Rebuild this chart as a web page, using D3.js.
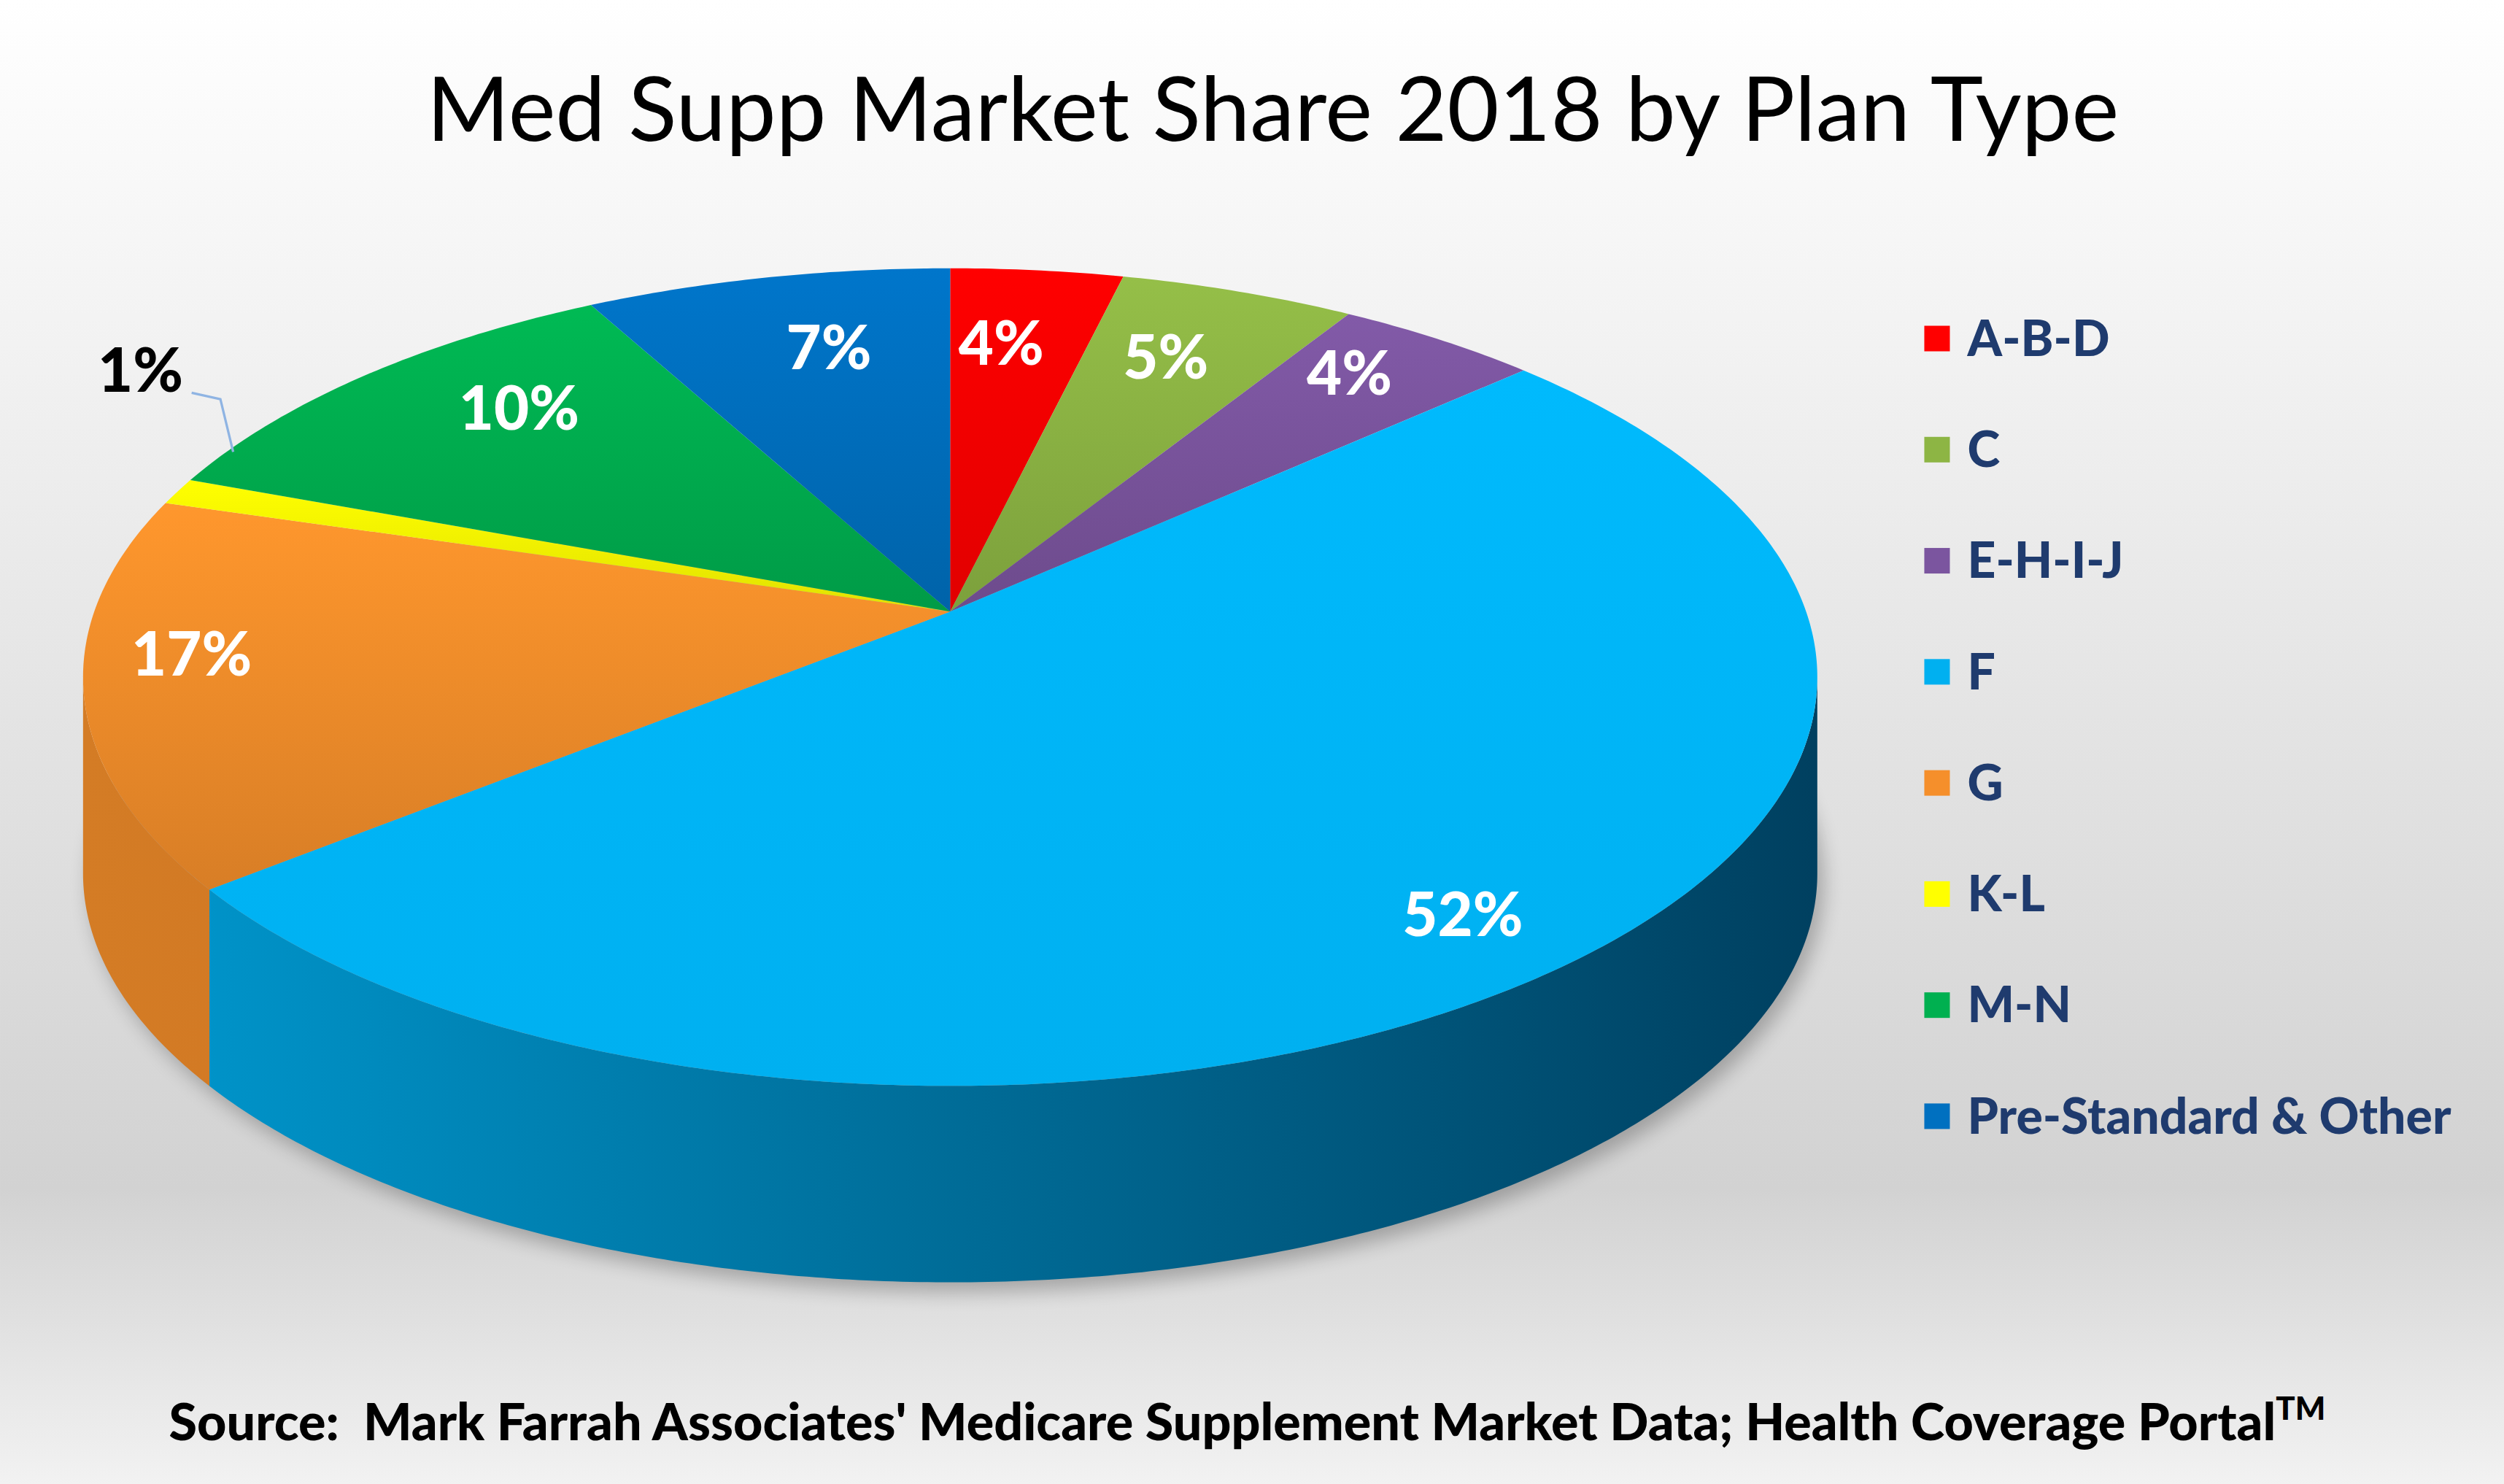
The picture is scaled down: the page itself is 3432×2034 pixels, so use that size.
<!DOCTYPE html>
<html><head><meta charset="utf-8">
<script src="https://cdn.jsdelivr.net/npm/d3@7"></script>
<style>body{margin:0;overflow:hidden}</style></head>
<body><svg id="c" width="3432" height="2034"></svg>
<script>
const categories=["A-B-D","C","E-H-I-J","F","G","K-L","M-N","Pre-Standard & Other"];
const values=[3.2,4.4,3.9,54.8,15.7,1.0,10.2,6.8];
const labels=["4%","5%","4%","52%","17%","1%","10%","7%"];
const colors=["#ff0000","#8db544","#7b559f","#00b0f0","#f58f2b","#ffff00","#00b050","#0070c0"];
const darks=["#b00000","#6a8c30","#5a3a80","#004060","#c0601a","#c0c000","#007a3a","#004f8a"];
const labelPos=[[627,215],[730,224],[845,234],[916,573],[120,410],[88,232],[325,256],[519,218]];

const svg=d3.select("#c").attr("viewBox","0 0 1568 929.3");
const defs=svg.append("defs");
const bg=defs.append("linearGradient").attr("id","bg").attr("x1",0).attr("y1",0).attr("x2",0).attr("y2",1);
bg.append("stop").attr("offset","0").attr("stop-color","#ffffff");
bg.append("stop").attr("offset","0.8").attr("stop-color","#d2d2d2");
bg.append("stop").attr("offset","1").attr("stop-color","#f2f2f2");
svg.append("rect").attr("width",1568).attr("height",930).attr("fill","url(#bg)");

const cx=595,cy=424,rx=543,ry=256,ax=595,ay=383,depth=123;
const pt=a=>[cx+rx*Math.sin(a),cy-ry*Math.cos(a)];
const total=d3.sum(values);
const ang=d3.scaleLinear().domain([0,total]).range([0,2*Math.PI]);
let cum=0;
const slices=values.map((v,i)=>{const s={i,a0:ang(cum),a1:ang(cum+v)};cum+=v;return s;});

defs.append("filter").attr("id","sh").append("feGaussianBlur").attr("stdDeviation",6);
svg.append("ellipse").attr("cx",cx+4).attr("cy",cy+depth+6).attr("rx",rx).attr("ry",ry).attr("fill","#000").attr("opacity",0.25).attr("filter","url(#sh)");

slices.forEach(s=>{
  const g=defs.append("linearGradient").attr("id","side"+s.i).attr("gradientUnits","userSpaceOnUse")
   .attr("x1",cx-rx).attr("x2",cx+rx).attr("y1",0).attr("y2",0);
  g.append("stop").attr("offset","0").attr("stop-color",d3.color(colors[s.i]).darker(0.4));
  g.append("stop").attr("offset","1").attr("stop-color",darks[s.i]);
});
const arcPts=(a0,a1)=>{const n=Math.max(2,Math.ceil((a1-a0)/0.01));return d3.range(n+1).map(k=>pt(a0+(a1-a0)*k/n));};
slices.forEach(s=>{
  const b0=Math.max(s.a0,Math.PI/2),b1=Math.min(s.a1,3*Math.PI/2);
  if(b1<=b0)return;
  const top=arcPts(b0,b1);const bot=top.map(p=>[p[0],p[1]+depth]).reverse();
  svg.append("path").attr("d",d3.line()(top.concat(bot))+"Z").attr("fill",`url(#side${s.i})`);
});
slices.forEach(s=>{
  const g=defs.append("linearGradient").attr("id","top"+s.i).attr("x1",0).attr("y1",0).attr("x2",0).attr("y2",1);
  g.append("stop").attr("offset","0").attr("stop-color",d3.color(colors[s.i]).brighter(0.15));
  g.append("stop").attr("offset","1").attr("stop-color",s.i==3?colors[s.i]:d3.color(colors[s.i]).darker(0.35));
});
slices.forEach(s=>{
  const p=[[ax,ay]].concat(arcPts(s.a0,s.a1));
  svg.append("path").attr("d",d3.line()(p)+"Z").attr("fill",`url(#top${s.i})`);
});
const F="Lato, 'Open Sans', sans-serif";
slices.forEach(s=>{
  svg.append("text").attr("x",labelPos[s.i][0]).attr("y",labelPos[s.i][1]).attr("dy","0.35em")
   .attr("text-anchor","middle").attr("font-family",F).attr("font-weight","900")
   .attr("font-size",38).attr("fill",s.i==5?"#000":"#fff").text(labels[s.i]);
});
svg.append("polyline").attr("points","120,246 138,250 146,283").attr("fill","none").attr("stroke","#8fb4e3").attr("stroke-width",1.5);

const ly=d3.scalePoint().domain(categories).range([212,699]);
categories.forEach((c,i)=>{
  svg.append("rect").attr("x",1205).attr("y",ly(c)-8).attr("width",16).attr("height",16).attr("fill",colors[i]);
  svg.append("text").attr("x",1232).attr("y",ly(c)).attr("dy","0.35em").attr("font-family",F)
   .attr("font-weight","900").attr("font-size",31).attr("fill","#1f3b6e").text(c);
});
svg.append("text").attr("x",797).attr("y",88).attr("text-anchor","middle").attr("font-family",F)
 .attr("font-size",56).attr("fill","#000").text("Med Supp Market Share 2018 by Plan Type");
const src=svg.append("text").attr("x",781).attr("y",902).attr("text-anchor","middle").attr("font-family",F)
 .attr("font-weight","900").attr("font-size",32).attr("fill","#000");
src.append("tspan").style("white-space","pre").text("Source:  Mark Farrah Associates' Medicare Supplement Market Data; Health Coverage Portal");
src.append("tspan").attr("font-size",20).attr("dy",-13).text("TM");
</script></body></html>
